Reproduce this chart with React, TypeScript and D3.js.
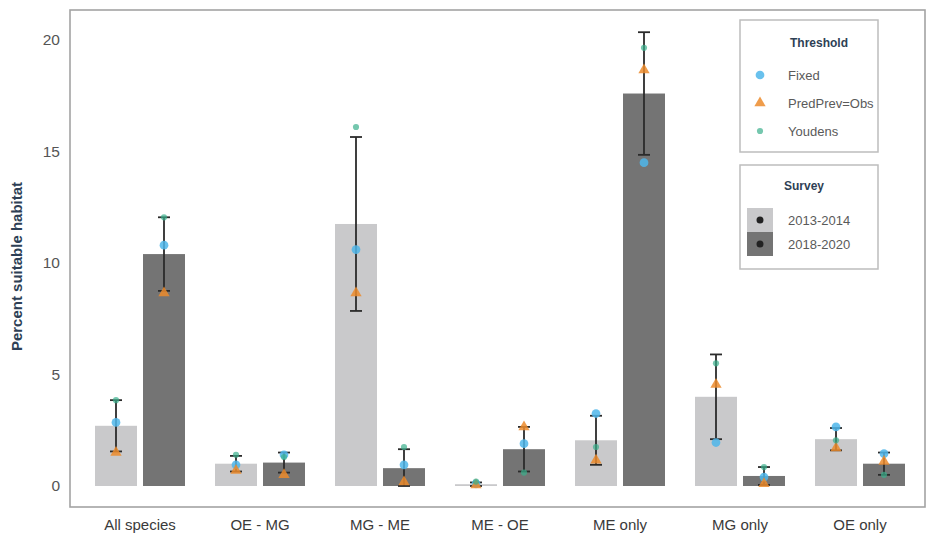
import React from 'react';
import * as d3 from 'd3';

// categories and survey periods
const categories = ['All species', 'OE - MG', 'MG - ME', 'ME - OE', 'ME only', 'MG only', 'OE only'];
const surveys = ['2013-2014', '2018-2020'];

// mean percent suitable habitat (bars) and +/- error, per survey
const bars1314 = [2.7, 1.0, 11.75, 0.08, 2.05, 4.0, 2.1];
const bars1820 = [10.4, 1.05, 0.8, 1.65, 17.6, 0.45, 1.0];
const err1314 = [1.15, 0.35, 3.9, 0.08, 1.1, 1.9, 0.5];
const err1820 = [1.65, 0.45, 0.85, 1.0, 2.75, 0.4, 0.5];

// threshold point estimates
const fixed1314 = [2.85, 0.95, 10.6, 0.1, 3.25, 1.95, 2.65];
const fixed1820 = [10.8, 1.4, 0.95, 1.9, 14.5, 0.4, 1.45];
const pred1314 = [1.5, 0.7, 8.65, 0.05, 1.15, 4.55, 1.7];
const pred1820 = [8.65, 0.5, 0.18, 2.65, 18.65, 0.1, 1.1];
const youd1314 = [3.85, 1.4, 16.1, 0.2, 1.75, 5.5, 2.05];
const youd1820 = [12.05, 1.3, 1.75, 0.6, 19.65, 0.85, 0.5];

const yTicks = [0, 5, 10, 15, 20];

const W = 928;
const H = 540;
const panel = { left: 70, top: 10, right: 925, bottom: 507 };

const barFill = ['#c9c9cb', '#747474'];
const thrColors = { fixed: '#4fb6ea', pred: '#ec8b2c', youd: '#3aaf8c' };
const font = '"Liberation Sans", Arial, sans-serif';

export default function App() {
  const x = d3.scaleBand().domain(categories).range([80, 920]).padding(0);
  const xs = d3.scaleBand().domain(surveys).range([-45, 45]).paddingInner(0.125).paddingOuter(0);
  const y = d3.scaleLinear().domain([0, 20]).range([486, 40]);

  const tri = d3.symbol().type(d3.symbolTriangle).size(55)();
  const circ = d3.symbol().type(d3.symbolCircle).size(60)();
  const small = d3.symbol().type(d3.symbolCircle).size(30)();

  const rows = [
    { s: surveys[0], bars: bars1314, err: err1314, f: fixed1314, p: pred1314, yd: youd1314 },
    { s: surveys[1], bars: bars1820, err: err1820, f: fixed1820, p: pred1820, yd: youd1820 },
  ];

  return (
    <svg width={W} height={H} style={{ display: 'block', position: 'absolute', left: 0, top: 0, background: '#fff' }}>
      {/* panel frame */}
      <rect x={panel.left} y={panel.top} width={panel.right - panel.left} height={panel.bottom - panel.top}
        fill="none" stroke="#a3a3a3" strokeWidth={1.6} />

      {/* y ticks */}
      {yTicks.map(t => (
        <text key={t} x={60} y={y(t)} dy="0.35em" textAnchor="end" fontFamily={font} fontSize={15.5} fill="#555">{t}</text>
      ))}
      <text transform={`translate(22,${(panel.top + panel.bottom) / 2 + 8}) rotate(-90)`} textAnchor="middle"
        fontFamily={font} fontSize={15} fontWeight="bold" fill="#2e3f55">Percent suitable habitat</text>

      {/* x labels */}
      {categories.map(c => (
        <text key={c} x={x(c)! + x.bandwidth() / 2} y={530} textAnchor="middle" fontFamily={font} fontSize={15} fill="#3a3a3a">{c}</text>
      ))}

      {/* bars */}
      {rows.map((r, ri) => categories.map((c, i) => {
        const bx = x(c)! + x.bandwidth() / 2 + xs(r.s)!;
        return (
          <rect key={r.s + c} x={bx} y={y(r.bars[i])} width={xs.bandwidth()} height={y(0) - y(r.bars[i])} fill={barFill[ri]} />
        );
      }))}

      {/* error bars */}
      {rows.map(r => categories.map((c, i) => {
        const cx = x(c)! + x.bandwidth() / 2 + xs(r.s)! + xs.bandwidth() / 2;
        const hi = y(r.bars[i] + r.err[i]);
        const lo = y(Math.max(0, r.bars[i] - r.err[i]));
        return (
          <g key={'e' + r.s + c} stroke="#2b2b2b" strokeWidth={1.8}>
            <line x1={cx} x2={cx} y1={hi} y2={lo} />
            <line x1={cx - 6} x2={cx + 6} y1={hi} y2={hi} />
            <line x1={cx - 6} x2={cx + 6} y1={lo} y2={lo} />
          </g>
        );
      }))}

      {/* threshold points */}
      {rows.map(r => categories.map((c, i) => {
        const cx = x(c)! + x.bandwidth() / 2 + xs(r.s)! + xs.bandwidth() / 2;
        return (
          <g key={'p' + r.s + c}>
            <path d={circ} transform={`translate(${cx},${y(r.f[i])})`} fill={thrColors.fixed} opacity={0.85} />
            <path d={tri} transform={`translate(${cx},${y(r.p[i])})`} fill={thrColors.pred} opacity={0.85} />
            <path d={small} transform={`translate(${cx},${y(r.yd[i])})`} fill={thrColors.youd} opacity={0.7} />
          </g>
        );
      }))}

      {/* Threshold legend */}
      <rect x={740} y={20} width={138} height={132} fill="#fff" stroke="#bdbdbd" strokeWidth={1.5} />
      <text x={790} y={47} fontFamily={font} fontSize={12} fontWeight="bold" fill="#2e3f55">Threshold</text>
      <path d={circ} transform="translate(760,75)" fill={thrColors.fixed} opacity={0.85} />
      <text x={788} y={75} dy="0.35em" fontFamily={font} fontSize={13} fill="#5a5a5a">Fixed</text>
      <path d={tri} transform="translate(760,103)" fill={thrColors.pred} opacity={0.85} />
      <text x={788} y={103} dy="0.35em" fontFamily={font} fontSize={13} fill="#5a5a5a">PredPrev=Obs</text>
      <path d={small} transform="translate(760,131)" fill={thrColors.youd} opacity={0.7} />
      <text x={788} y={131} dy="0.35em" fontFamily={font} fontSize={13} fill="#5a5a5a">Youdens</text>

      {/* Survey legend */}
      <rect x={740} y={165} width={138} height={104} fill="#fff" stroke="#bdbdbd" strokeWidth={1.5} />
      <text x={784} y={190} fontFamily={font} fontSize={12} fontWeight="bold" fill="#2e3f55">Survey</text>
      {surveys.map((s, i) => (
        <g key={s}>
          <rect x={747} y={208 + i * 24} width={26} height={24} fill={barFill[i]} />
          <circle cx={760} cy={220 + i * 24} r={3.5} fill="#222" />
          <text x={788} y={220 + i * 24} dy="0.35em" fontFamily={font} fontSize={13} fill="#5a5a5a">{s}</text>
        </g>
      ))}
    </svg>
  );
}
